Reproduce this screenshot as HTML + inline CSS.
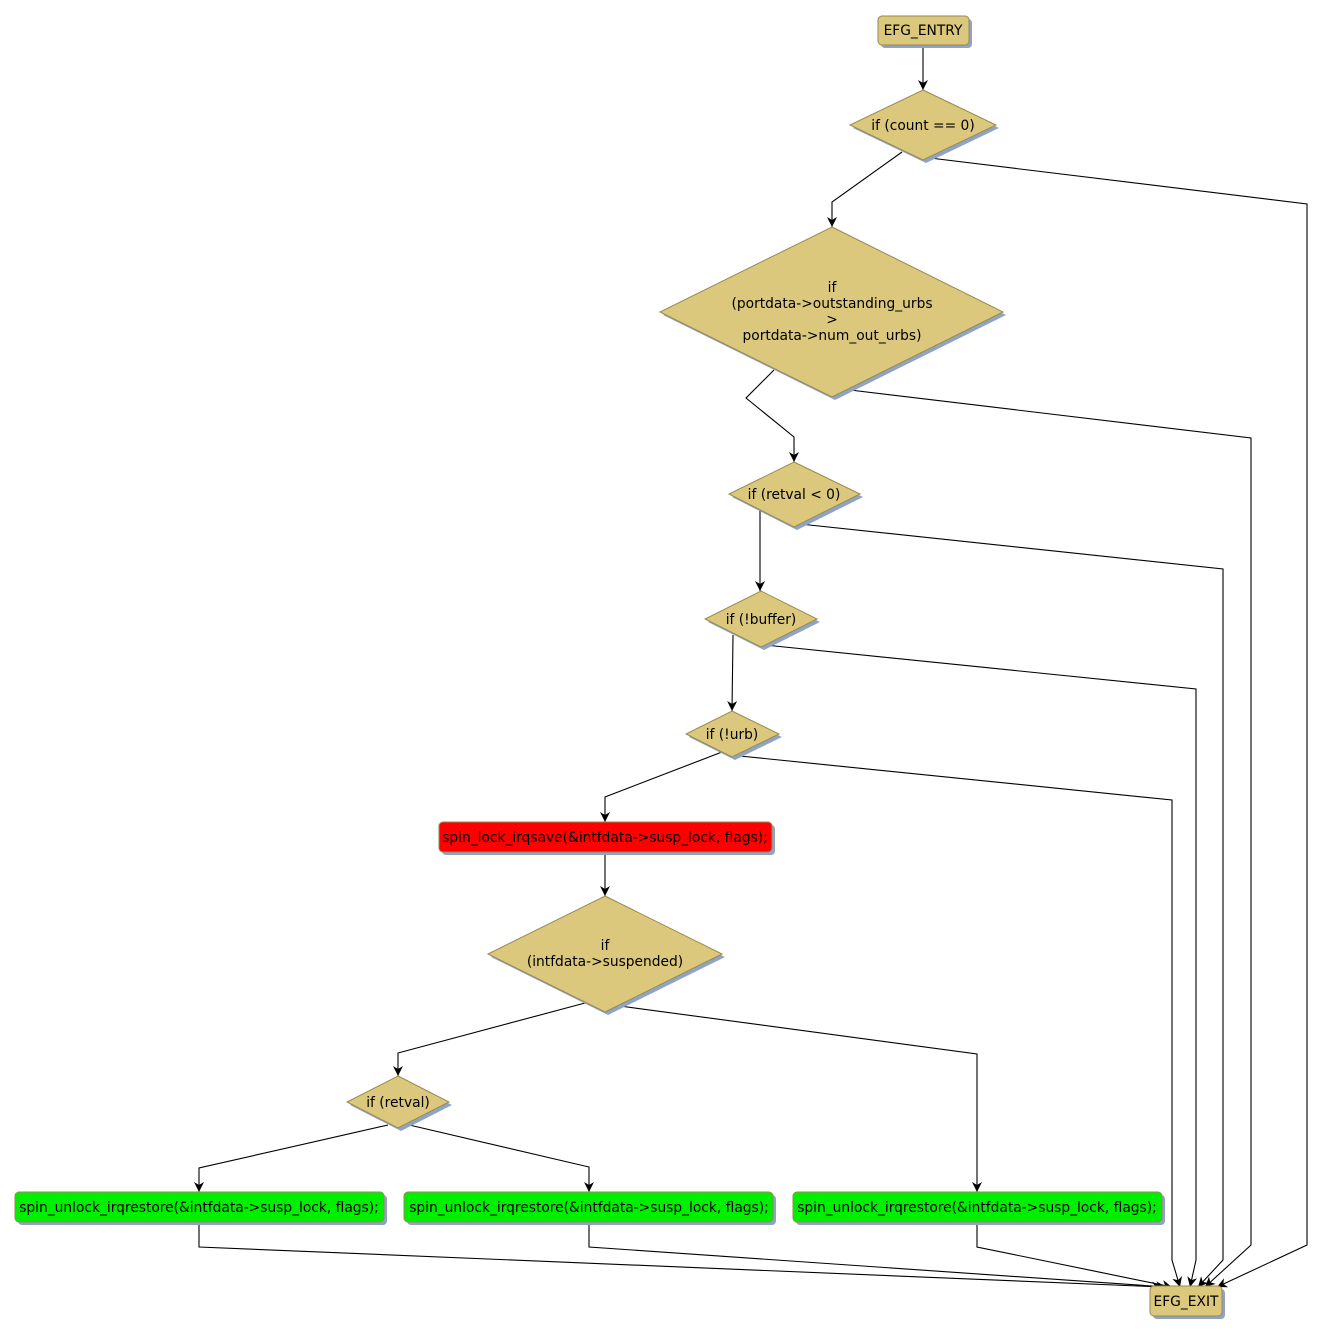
<!DOCTYPE html>
<html><head><meta charset="utf-8"><style>
html,body{margin:0;padding:0;background:#fff;}
svg{display:block;}
text{font-family:"DejaVu Sans","Liberation Sans",sans-serif;font-size:13.8px;fill:#000;}
</style></head><body>
<svg width="1323" height="1335" viewBox="0 0 1323 1335" xmlns="http://www.w3.org/2000/svg">
<defs>
<marker id="a" viewBox="0 0 10 10" refX="10" refY="5" markerWidth="10" markerHeight="10" markerUnits="userSpaceOnUse" orient="auto">
<path d="M0,0 L10,5 L0,10 L3,5 z" fill="#000"/></marker>
</defs>
<g fill="none" stroke="#000" stroke-width="1.1" marker-end="url(#a)">
<polyline points="923,45 923,90"/>
<polyline points="902,152 832,202 832,227"/>
<polyline points="930,158 1307,204 1307,1245 1217,1287"/>
<polyline points="774,370 746,398 794,437 794,462"/>
<polyline points="850,390 1251,438 1251,1245 1205,1287"/>
<polyline points="760,510 760,591"/>
<polyline points="800,524 1223,569 1223,1260 1198,1287"/>
<polyline points="733,635 732,711"/>
<polyline points="765,645 1196,689 1196,1260 1190,1287"/>
<polyline points="722,752 605,797 605,822"/>
<polyline points="740,756 1172,800 1172,1260 1180,1287"/>
<polyline points="605,852 605,896"/>
<polyline points="585,1003 398,1053 398,1076"/>
<polyline points="620,1006 977,1054 977,1192"/>
<polyline points="388,1125 199,1168 199,1192"/>
<polyline points="405,1124 589,1167 589,1192"/>
<polyline points="199,1222 199,1247 1162,1287"/>
<polyline points="589,1222 589,1247 1166,1287"/>
<polyline points="977,1222 977,1247 1172,1287"/>
</g>
<g fill="#8fa3c8">
<rect x="881" y="19" width="91" height="29" rx="4"/>
<polygon points="926,93 999,128 926,163 853,128"/>
<polygon points="835,230 1006,315 835,400 663,315"/>
<polygon points="797,465 863,497 797,530 732,497"/>
<polygon points="764,594 820,622 764,650 708,622"/>
<polygon points="735,714 782,737 735,760 689,737"/>
<rect x="442" y="825" width="333" height="30" rx="4"/>
<polygon points="608,899 725,957 608,1015 491,957"/>
<polygon points="401,1079 452,1105 401,1131 350,1105"/>
<rect x="18" y="1195" width="369" height="30" rx="4"/>
<rect x="407" y="1195" width="369" height="30" rx="4"/>
<rect x="796" y="1195" width="369" height="30" rx="4"/>
<rect x="1153" y="1289" width="72" height="30" rx="4"/>
</g>
<g stroke="#9a8a50" stroke-width="1" fill="#dbc87c">
<rect x="878" y="16" width="91" height="29" rx="4"/>
<polygon points="923,90 996,125 923,160 850,125"/>
<polygon points="832,227 1003,312 832,397 660,312"/>
<polygon points="794,462 860,494 794,527 729,494"/>
<polygon points="761,591 817,619 761,647 705,619"/>
<polygon points="732,711 779,734 732,757 686,734"/>
<polygon points="605,896 722,954 605,1012 488,954"/>
<polygon points="398,1076 449,1102 398,1128 347,1102"/>
<rect x="1150" y="1286" width="72" height="30" rx="4"/>
</g>
<rect x="439" y="822" width="333" height="30" rx="4" fill="#ff0000" stroke="#9a8a50"/>
<g fill="#00ee00" stroke="#9a8a50">
<rect x="15" y="1192" width="369" height="30" rx="4"/>
<rect x="404" y="1192" width="369" height="30" rx="4"/>
<rect x="793" y="1192" width="369" height="30" rx="4"/>
</g>
<g text-anchor="middle">
<text x="923" y="35">EFG_ENTRY</text>
<text x="923" y="130">if (count == 0)</text>
<text x="832" y="292">if</text>
<text x="832" y="308">(portdata-&gt;outstanding_urbs</text>
<text x="832" y="324">&gt;</text>
<text x="832" y="340">portdata-&gt;num_out_urbs)</text>
<text x="794" y="499">if (retval &lt; 0)</text>
<text x="761" y="624">if (!buffer)</text>
<text x="732" y="739">if (!urb)</text>
<text x="605" y="842">spin_lock_irqsave(&amp;intfdata-&gt;susp_lock, flags);</text>
<text x="605" y="950">if</text>
<text x="605" y="966">(intfdata-&gt;suspended)</text>
<text x="398" y="1107">if (retval)</text>
<text x="199" y="1212">spin_unlock_irqrestore(&amp;intfdata-&gt;susp_lock, flags);</text>
<text x="589" y="1212">spin_unlock_irqrestore(&amp;intfdata-&gt;susp_lock, flags);</text>
<text x="977" y="1212">spin_unlock_irqrestore(&amp;intfdata-&gt;susp_lock, flags);</text>
<text x="1186" y="1306">EFG_EXIT</text>
</g>
</svg>
</body></html>
